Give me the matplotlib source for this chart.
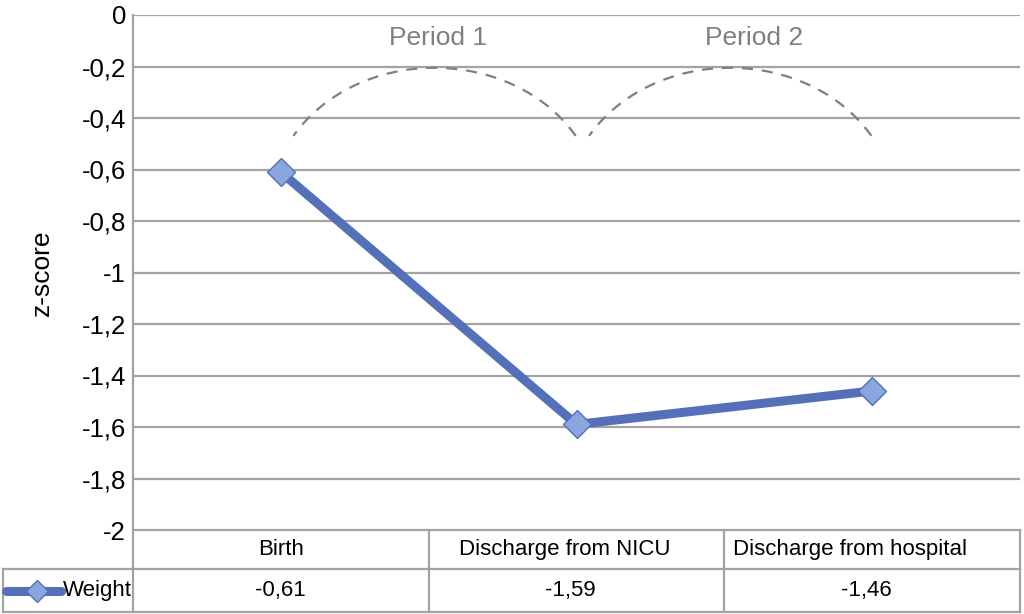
import numpy as np
import matplotlib.pyplot as plt
from matplotlib.patches import Arc
from matplotlib.lines import Line2D
import matplotlib.transforms as mtransforms

plt.rcParams['font.family'] = ['Liberation Sans', 'DejaVu Sans']

categories = ['Birth', 'Discharge from NICU', 'Discharge from hospital']
weight = [-0.61, -1.59, -1.46]
series_name = 'Weight'
periods = ['Period 1', 'Period 2']
yticks = [0, -0.2, -0.4, -0.6, -0.8, -1, -1.2, -1.4, -1.6, -1.8, -2]

grid_col = '#a3a3a3'
line_col = '#5470b8'
mark_col = '#8aa6df'

def fmt(v, dec=None):
    s = f'{v:.{dec}f}' if dec is not None else f'{v:g}'
    if s == '-0':
        s = '0'
    return s.replace('.', ',')

fig = plt.figure(figsize=(10.24, 6.14), dpi=100)
ax = fig.add_axes([133 / 1024, 1 - 530 / 614, 887 / 1024, 515 / 614])

x = np.arange(len(categories)) + 0.5
ax.set_xlim(0, len(categories))
ax.set_ylim(-2, 0)

# horizontal grid
for t in yticks[:-1]:
    ax.axhline(t, color=grid_col, lw=1.6, zorder=0)

ax.plot(x, weight, color=line_col, lw=6.5, zorder=3, solid_capstyle='round',
        marker='D', markersize=14, markerfacecolor=mark_col,
        markeredgecolor=line_col, markeredgewidth=1.0)

# period arcs
label_shift = [0.03, 0.10]
for i, lab in enumerate(periods):
    cx = x[i] + 0.5
    arc = Arc((cx + 0.02, -0.745), width=1.11, height=1.08, theta1=30, theta2=150,
              color='#7f7f7f', lw=1.6, linestyle=(0, (5, 4)), zorder=2)
    ax.add_patch(arc)
    ax.text(cx + label_shift[i], -0.09, lab, color='#7f7f7f', fontsize=19,
            ha='center', va='center')

for s in ax.spines.values():
    s.set_visible(False)
ax.set_xticks([])
ax.set_yticks(yticks)
ax.set_yticklabels([fmt(t) for t in yticks], fontsize=18.5)
ax.tick_params(axis='y', length=0, pad=5)
ax.set_ylabel('z-score', fontsize=19, labelpad=20)

# table below the plot (x in data, y in axes fraction)
tr = mtransforms.blended_transform_factory(ax.transData, ax.transAxes)
y_top, y_mid, y_bot = 0.0, -39 / 515, -82 / 515
x_left_cell = -130 / 887 * len(categories)

def hline(y0, x0, x1):
    ax.add_line(Line2D([x0, x1], [y0, y0], transform=tr, color=grid_col,
                       lw=1.6, clip_on=False))

def vline(xx, y0, y1):
    ax.add_line(Line2D([xx, xx], [y0, y1], transform=tr, color=grid_col,
                       lw=1.6, clip_on=False))

hline(y_top, 0, len(categories))
hline(y_mid, x_left_cell, len(categories))
hline(y_bot, x_left_cell, len(categories))
vline(0, y_bot, 1.0)
vline(x_left_cell, y_bot, y_mid)
for k in range(1, len(categories) + 1):
    vline(k, y_bot, y_top)

head_shift = [0.0, -0.04, -0.075]
val_shift = [0.0, -0.02, -0.02]
for xi, c, v, hs, vs in zip(x, categories, weight, head_shift, val_shift):
    ax.text(xi + hs, (y_top + y_mid) / 2, c, transform=tr, fontsize=16,
            ha='center', va='center')
    ax.text(xi + vs, (y_mid + y_bot) / 2, fmt(v, 2), transform=tr, fontsize=16,
            ha='center', va='center')

# legend key inside the table
yk = (y_mid + y_bot) / 2
ax.add_line(Line2D([-0.43, -0.245], [yk, yk], transform=tr, color=line_col,
                   lw=6.5, solid_capstyle='round', clip_on=False))
ax.add_line(Line2D([-0.325], [yk], transform=tr, marker='D', markersize=11,
                   markerfacecolor=mark_col, markeredgecolor=line_col,
                   markeredgewidth=1.0, clip_on=False))
ax.text(-0.005, yk, series_name, transform=tr, fontsize=16,
        ha='right', va='center')

fig.savefig('out.png', dpi=100)
